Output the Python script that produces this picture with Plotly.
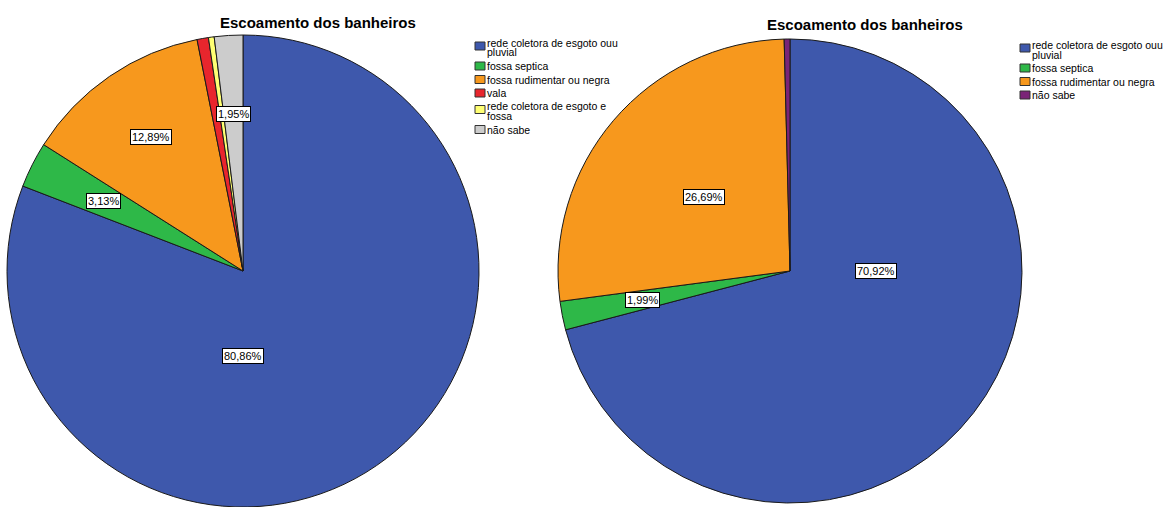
import math
import plotly.graph_objects as go

# Canvas size in pixels
W, H = 1167, 507

# Data: share of households by bathroom drainage type (%)
labels_left = [
    "rede coletora de esgoto ouu\npluvial",
    "fossa septica",
    "fossa rudimentar ou negra",
    "vala",
    "rede coletora de esgoto e\nfossa",
    "não sabe",
]
values_left = [80.86, 3.13, 12.89, 0.78, 0.39, 1.95]
colors_left = ["#3E58AC", "#2EB848", "#F7981D", "#E8262D", "#FFFF73", "#CCCCCC"]
shown_left = [0, 1, 2, 5]

labels_right = [
    "rede coletora de esgoto ouu\npluvial",
    "fossa septica",
    "fossa rudimentar ou negra",
    "não sabe",
]
values_right = [70.92, 1.99, 26.69, 0.40]
colors_right = ["#3E58AC", "#2EB848", "#F7981D", "#7A2477"]
shown_right = [0, 1, 2]

title_text = "Escoamento dos banheiros"

FONT = "Liberation Sans, Arial, Helvetica, sans-serif"

# Geometry of each panel (pixels): pie centre, radius, title, legend anchor
panels = [
    dict(labels=labels_left, values=values_left, colors=colors_left, shown=shown_left,
         cx=243, cy=271, r=236, title_xy=(318, 22), legend_xy=(475, 43),
         # value-label placement: slice index -> (radius fraction, fixed angle or None)
         place={0: (0.36, 180), 1: (0.66, None), 2: (0.69, None), 5: (0.665, None)}),
    dict(labels=labels_right, values=values_right, colors=colors_right, shown=shown_right,
         cx=790, cy=271, r=232, title_xy=(865, 24.5), legend_xy=(1020, 45),
         place={0: (0.37, 90), 1: (0.65, None), 2: (0.49, None)}),
]


def px_x(x):
    return x / W


def px_y(y):
    return 1 - y / H


fig = go.Figure()
annotations = []
shapes = []

for p in panels:
    cx, cy, r = p["cx"], p["cy"], p["r"]
    flat_labels = [s.replace("\n", " ") for s in p["labels"]]
    fig.add_trace(go.Pie(
        labels=flat_labels,
        values=p["values"],
        sort=False,
        direction="clockwise",
        rotation=0,
        textinfo="none",
        hoverinfo="label+percent",
        showlegend=False,
        marker=dict(colors=p["colors"], line=dict(color="#1a1a1a", width=1)),
        domain=dict(x=[max(0, px_x(cx - r)), min(1, px_x(cx + r))],
                    y=[max(0, px_y(cy + r)), min(1, px_y(cy - r))]),
    ))

    # boxed percentage labels along each slice's bisector
    total = sum(p["values"])
    cum = 0.0
    mids = []
    for v in p["values"]:
        mids.append((cum + v / 2) / total * 360.0)
        cum += v
    for i in p["shown"]:
        frac, ang = p["place"][i]
        a = math.radians(mids[i] if ang is None else ang)
        x = cx + r * frac * math.sin(a)
        y = cy - r * frac * math.cos(a)
        txt = f"{p['values'][i]:.2f}".replace(".", ",") + "%"
        annotations.append(dict(
            x=px_x(x), y=px_y(y), xref="paper", yref="paper", text=txt,
            showarrow=False, xanchor="center", yanchor="middle",
            font=dict(family=FONT, size=11, color="#000"),
            bgcolor="#FFFFFF", bordercolor="#000000", borderwidth=1, borderpad=1,
        ))

    # title
    tx, ty = p["title_xy"]
    annotations.append(dict(
        x=px_x(tx), y=px_y(ty), xref="paper", yref="paper",
        text=f"<b>{title_text}</b>", showarrow=False,
        xanchor="center", yanchor="middle",
        font=dict(family=FONT, size=15, color="#000"),
    ))

    # legend: swatch + text lines
    lx, ly = p["legend_xy"]
    yline = ly
    for lab, col in zip(p["labels"], p["colors"]):
        lines = lab.split("\n")
        sq_c = yline + (len(lines) - 1) * 3
        shapes.append(dict(
            type="rect", xref="paper", yref="paper",
            x0=px_x(lx), x1=px_x(lx + 10), y0=px_y(sq_c + 4), y1=px_y(sq_c - 4),
            fillcolor=col, line=dict(color="#333333", width=1),
        ))
        for k, line in enumerate(lines):
            annotations.append(dict(
                x=px_x(lx + 11), y=px_y(yline + k * 9.5), xref="paper", yref="paper",
                text=line, showarrow=False, xanchor="left", yanchor="middle",
                font=dict(family=FONT, size=10.5, color="#000"), borderpad=0,
            ))
        yline += (len(lines) - 1) * 9.5 + 13.5

fig.update_layout(
    width=W, height=H,
    margin=dict(l=0, r=0, t=0, b=0),
    paper_bgcolor="#FFFFFF",
    plot_bgcolor="#FFFFFF",
    annotations=annotations,
    shapes=shapes,
    showlegend=False,
)

fig.write_html("out.html")
